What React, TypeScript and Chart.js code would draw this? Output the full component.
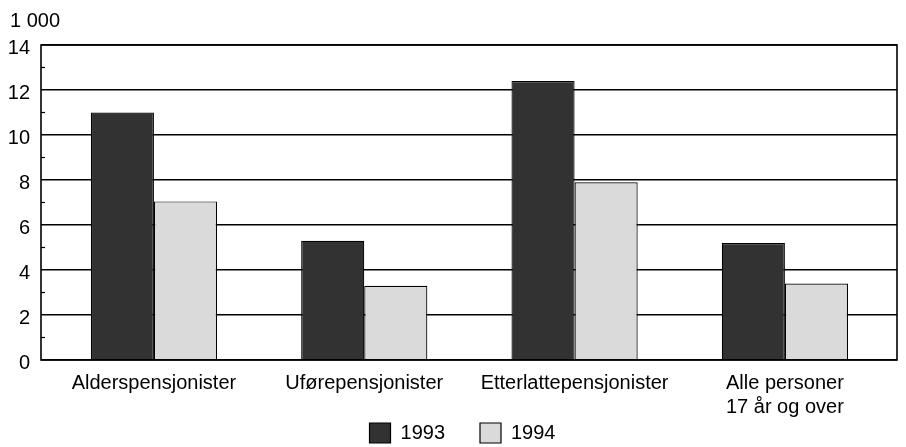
import React, { useEffect, useRef } from "react";
import { Chart, registerables } from "chart.js";

Chart.register(...registerables);

const categories: (string | string[])[] = [
  "Alderspensjonister",
  "Uførepensjonister",
  "Etterlattepensjonister",
  ["Alle personer", "17 år og over"],
];
const series1993 = [11.0, 5.3, 12.4, 5.2];
const series1994 = [7.05, 3.3, 7.9, 3.4];
const seriesLabels = ["1993", "1994"];
const yTicks = [0, 2, 4, 6, 8, 10, 12, 14];
const unitLabel = "1 000";

const FONT = "'Liberation Sans Narrow', 'Arial Narrow', 'Liberation Sans', Arial, sans-serif";

export default function App() {
  const ref = useRef<HTMLCanvasElement | null>(null);

  useEffect(() => {
    if (!ref.current) return;
    const framePlugin = {
      id: "frame",
      afterDraw(chart: any) {
        const { ctx, chartArea } = chart;
        const y = chart.scales.y;
        ctx.save();
        ctx.strokeStyle = "#000";
        ctx.lineWidth = 1.6;
        ctx.strokeRect(chartArea.left, chartArea.top, chartArea.right - chartArea.left, chartArea.bottom - chartArea.top);
        // minor ticks on odd values
        ctx.lineWidth = 1.2;
        for (let v = 1; v < 14; v += 2) {
          const py = y.getPixelForValue(v);
          ctx.beginPath();
          ctx.moveTo(chartArea.left, py);
          ctx.lineTo(chartArea.left + 4, py);
          ctx.stroke();
        }
        ctx.fillStyle = "#000";
        ctx.font = "20px " + FONT;
        ctx.textBaseline = "alphabetic";
        ctx.textAlign = "left";
        ctx.fillText(unitLabel, 10, 27);
        ctx.restore();
      },
    };

    const chart = new Chart(ref.current, {
      type: "bar",
      data: {
        labels: categories,
        datasets: [
          {
            label: seriesLabels[0],
            data: series1993,
            backgroundColor: "#323232",
            borderColor: "#000",
            borderWidth: 1.2,
            categoryPercentage: 0.6,
            barPercentage: 1,
          },
          {
            label: seriesLabels[1],
            data: series1994,
            backgroundColor: "#dadada",
            borderColor: "#000",
            borderWidth: 1.2,
            categoryPercentage: 0.6,
            barPercentage: 1,
          },
        ],
      },
      options: {
        animation: false,
        responsive: false,
        maintainAspectRatio: false,
        layout: { padding: { top: 45, right: 9, left: 28, bottom: 0 } },
        plugins: {
          tooltip: { enabled: false },
          legend: {
            position: "bottom",
            maxHeight: 59,
            labels: {
              boxWidth: 21,
              boxHeight: 20,
              color: "#000",
              font: { family: FONT, size: 20 },
              padding: 35,
            },
          },
        },
        scales: {
          x: {
            afterFit(scale: any) {
              scale.height = 28;
              scale._computeLabelArea = () => undefined;
            },
            afterBuildTicks(scale: any) {
              scale._valueRange = 4.07;
              scale._startValue = -0.537;
            },
            grid: { display: false, drawTicks: false },
            border: { display: false },
            ticks: {
              color: "#000",
              font: { family: FONT, size: 20, lineHeight: 1.2 },
              padding: 11,
              maxRotation: 0,
              autoSkip: false,
            },
          },
          y: {
            min: 0,
            max: 14,
            afterFit(scale: any) {
              scale.width = 13;
              scale._computeLabelArea = () => undefined;
            },
            afterBuildTicks(scale: any) {
              scale.ticks = yTicks.map((v) => ({ value: v }));
            },
            grid: { color: "#000", lineWidth: 1.5, drawTicks: false },
            border: { display: false },
            ticks: {
              color: "#000",
              font: { family: FONT, size: 20 },
              padding: 11,
              labelOffset: 3,
            },
          },
        },
      },
      plugins: [framePlugin],
    } as any);
    return () => chart.destroy();
  }, []);

  return (
    <div style={{ position: "absolute", left: 0, top: 0, width: 906, height: 447, background: "#fff" }}>
      <canvas ref={ref} width={906} height={447} style={{ display: "block" }} />
    </div>
  );
}
